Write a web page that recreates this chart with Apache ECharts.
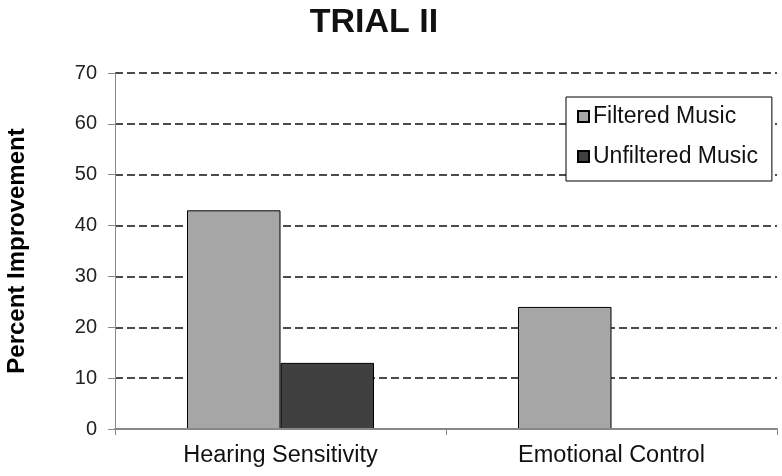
<!DOCTYPE html>
<html><head><meta charset="utf-8">
<script src="https://cdn.jsdelivr.net/npm/echarts@6/dist/echarts.min.js"></script>
<style>html,body{margin:0;padding:0;background:#fff}#c{width:782px;height:476px}</style>
</head><body><div id="c"></div>
<script>
const categories = ['Hearing Sensitivity', 'Emotional Control'];
const filtered = [43, 24];
const unfiltered = [13, 0];
const yTicks = [0, 10, 20, 30, 40, 50, 60, 70];

const toItems = arr => arr.map(v => v === 0 ? { value: v, itemStyle: { borderWidth: 0 } } : v);

const chart = echarts.init(document.getElementById('c'));
chart.setOption({
  animation: false,
  backgroundColor: '#fff',
  title: {
    text: 'TRIAL II', left: 369, top: 1, textAlign: 'center',
    textStyle: { fontFamily: 'Liberation Sans, Arial', fontWeight: 'bold', fontSize: 34, color: '#111' }
  },
  legend: {
    orient: 'vertical', left: 566, top: 97,
    padding: [8, 14, 13, 11], itemGap: 17,
    itemWidth: 11, itemHeight: 11, icon: 'rect',
    borderColor: '#000', borderWidth: 1, backgroundColor: '#fff',
    textStyle: { fontFamily: 'Liberation Sans, Arial', fontSize: 23, color: '#111', padding: [0, 0, 0, -1] },
    data: ['Filtered Music', 'Unfiltered Music']
  },
  grid: { left: 115, right: 5, top: 73, bottom: 47, containLabel: false, outerBoundsMode: 'none' },
  xAxis: {
    type: 'category', data: categories, z: 5,
    axisLine: { lineStyle: { color: '#888', width: 2 } },
    axisTick: { show: true, length: 6, lineStyle: { color: '#888' } },
    axisLabel: { fontFamily: 'Liberation Sans, Arial', fontSize: 23.5, color: '#111', margin: 15 }
  },
  yAxis: {
    type: 'value', min: 0, max: 70, interval: 10, z: 1,
    name: 'Percent Improvement', nameLocation: 'middle', nameGap: 86, nameRotate: 90,
    nameTextStyle: { fontFamily: 'Liberation Sans, Arial', fontWeight: 'bold', fontSize: 24, color: '#000' },
    axisLine: { show: true, lineStyle: { color: '#888', width: 1 } },
    axisTick: { show: true, length: 7, lineStyle: { color: '#888' } },
    axisLabel: {
      fontFamily: 'Liberation Sans, Arial', fontSize: 20, color: '#222', margin: 18,
      formatter: v => yTicks.includes(v) ? String(v) : ''
    },
    splitLine: { show: true, showMinLine: false, lineStyle: { color: '#111', type: [8, 4], width: 1.5 } }
  },
  series: [
    {
      name: 'Filtered Music', type: 'bar', data: toItems(filtered),
      barGap: '0%', barCategoryGap: '43.5%',
      itemStyle: { color: '#a6a6a6', borderColor: '#000', borderWidth: 1 }
    },
    {
      name: 'Unfiltered Music', type: 'bar', data: toItems(unfiltered),
      barGap: '0%', barCategoryGap: '43.5%',
      itemStyle: { color: '#404040', borderColor: '#000', borderWidth: 1 }
    }
  ]
});
</script></body></html>
